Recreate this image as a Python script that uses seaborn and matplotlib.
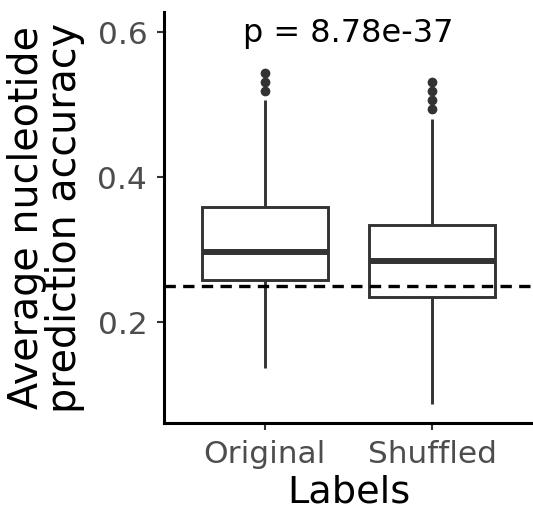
import matplotlib
matplotlib.use("Agg")
import matplotlib.pyplot as plt
import seaborn as sns
import pandas as pd

# ---- data ----
labels = ["Original", "Shuffled"]
original_vals = [0.136,
                 0.2585, 0.2585, 0.2585, 0.2585,
                 0.296, 0.296, 0.296, 0.296,
                 0.3586, 0.3586, 0.3586, 0.3586,
                 0.506,
                 0.519, 0.531, 0.543]
shuffled_vals = [0.087,
                 0.2345, 0.2345, 0.2345, 0.2345, 0.2345,
                 0.2837, 0.2837, 0.2837, 0.2837, 0.2837,
                 0.3334, 0.3334, 0.3334, 0.3334, 0.3334,
                 0.4806,
                 0.494, 0.506, 0.519, 0.531]
chance_level = 0.25
p_text = "p = 8.78e-37"
yticks = [0.2, 0.4, 0.6]

df = pd.DataFrame({
    "Labels": [labels[0]] * len(original_vals) + [labels[1]] * len(shuffled_vals),
    "acc": original_vals + shuffled_vals,
})

sns.set_style("ticks")
plt.rcParams["font.family"] = ["DejaVu Sans"]

W, H = 533, 509
fig = plt.figure(figsize=(W / 100, H / 100), dpi=100)
L, R, T, B = 164, 533, 12, 423
ax = fig.add_axes([L / W, 1 - B / H, (R - L) / W, (B - T) / H])

dark = "#333333"
sns.boxplot(data=df, x="Labels", y="acc", order=labels, ax=ax,
            color="white", linecolor=dark, linewidth=2.1, width=0.75,
            showcaps=False,
            medianprops={"linewidth": 4.3, "color": dark},
            flierprops={"marker": "o", "markerfacecolor": dark,
                        "markeredgecolor": dark, "markersize": 6})

ax.axhline(chance_level, color="black", lw=2.4, ls=(0, (3.4, 2.2)), zorder=5)

ax.text(0.5, 0.586, p_text, ha="center", va="baseline", fontsize=23,
        color="black")

ax.set_xlim(-0.6, 1.6)
ax.set_ylim(0.0607, 0.6276)
ax.set_yticks(yticks)
ax.set_yticklabels([f"{v:.1f}" for v in yticks])

for s in ["top", "right"]:
    ax.spines[s].set_visible(False)
for s in ["left", "bottom"]:
    ax.spines[s].set_color("black")
    ax.spines[s].set_linewidth(2.2)

ax.tick_params(axis="both", length=5, width=1.5, color=dark,
               labelcolor="#4D4D4D", labelsize=22.5, pad=7)

ax.set_xlabel("Labels", fontsize=27.5, color="black", labelpad=4)
ax.set_ylabel("Average nucleotide\nprediction accuracy", fontsize=28.5,
              color="black", linespacing=0.92, labelpad=9)

fig.savefig("out.png", dpi=100)
